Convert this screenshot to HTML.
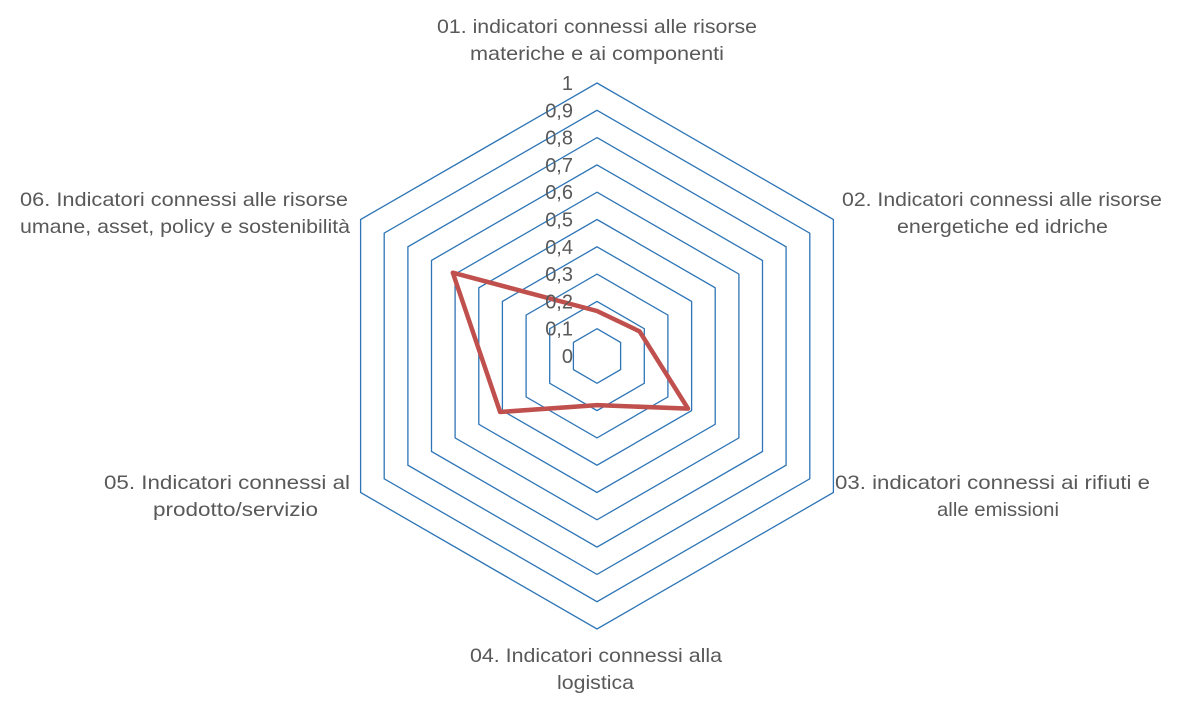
<!DOCTYPE html>
<html><head><meta charset="utf-8"><style>
body{margin:0;background:#fff;}
svg text{font-family:"Liberation Sans",sans-serif;fill:#595959;font-size:19.5px;}
</style></head><body>
<svg width="1183" height="705" viewBox="0 0 1183 705" xmlns="http://www.w3.org/2000/svg">
<g fill="none" stroke="#2E75B6" stroke-width="1.3" id="rings"></g>
<script>
var cx=597,cy=356,R=273,g=document.getElementById('rings'),ns="http://www.w3.org/2000/svg";
function pt(r,i){var a=(-90+60*i)*Math.PI/180;return [cx+r*Math.cos(a),cy+r*Math.sin(a)];}
for(var k=1;k<=10;k++){var p=[];for(var i=0;i<6;i++){var q=pt(R*k/10,i);p.push(q[0].toFixed(1)+","+q[1].toFixed(1));}
var e=document.createElementNS(ns,"polygon");e.setAttribute("points",p.join(" "));g.appendChild(e);}
var v=[0.165,0.18,0.385,0.18,0.41,0.61],p2=[];
for(var i=0;i<6;i++){var q=pt(R*v[i],i);p2.push(q[0].toFixed(1)+","+q[1].toFixed(1));}
var d=document.createElementNS(ns,"polygon");d.setAttribute("points",p2.join(" "));d.setAttribute("fill","none");d.setAttribute("stroke","#C0504D");d.setAttribute("stroke-width","4.5");d.setAttribute("stroke-linejoin","round");document.querySelector("svg").appendChild(d);
var labs=["0","0,1","0,2","0,3","0,4","0,5","0,6","0,7","0,8","0,9","1"];
for(var k=0;k<=10;k++){var t=document.createElementNS(ns,"text");t.setAttribute("x","573");t.setAttribute("y",(cy-R*k/10+7).toFixed(1));t.setAttribute("text-anchor","end");t.setAttribute("style","font-size:20px");t.textContent=labs[k];document.querySelector("svg").appendChild(t);}
</script>
<text x="437" y="33" textLength="320" lengthAdjust="spacingAndGlyphs">01. indicatori connessi alle risorse</text>
<text x="470" y="60" textLength="254" lengthAdjust="spacingAndGlyphs">materiche e ai componenti</text>
<text x="842" y="206" textLength="320" lengthAdjust="spacingAndGlyphs">02. Indicatori connessi alle risorse</text>
<text x="897" y="233" textLength="211" lengthAdjust="spacingAndGlyphs">energetiche ed idriche</text>
<text x="835" y="489" textLength="315" lengthAdjust="spacingAndGlyphs">03. indicatori connessi ai rifiuti e</text>
<text x="937" y="516" textLength="122" lengthAdjust="spacingAndGlyphs">alle emissioni</text>
<text x="470" y="662" textLength="252" lengthAdjust="spacingAndGlyphs">04. Indicatori connessi alla</text>
<text x="557" y="689" textLength="77" lengthAdjust="spacingAndGlyphs">logistica</text>
<text x="104" y="489" textLength="246" lengthAdjust="spacingAndGlyphs">05. Indicatori connessi al</text>
<text x="153" y="516" textLength="165" lengthAdjust="spacingAndGlyphs">prodotto/servizio</text>
<text x="20" y="206" textLength="328" lengthAdjust="spacingAndGlyphs">06. Indicatori connessi alle risorse</text>
<text x="20" y="233" textLength="330" lengthAdjust="spacingAndGlyphs">umane, asset, policy e sostenibilità</text>
</svg>
</body></html>
